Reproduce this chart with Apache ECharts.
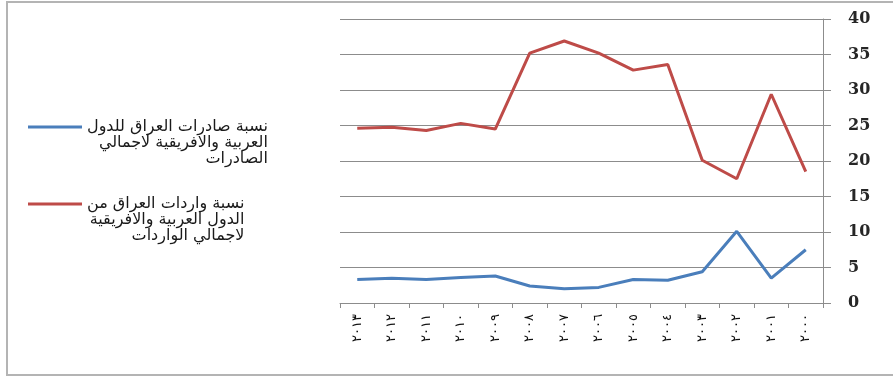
<!DOCTYPE html>
<html>
<head>
<meta charset="utf-8">
<script src="https://cdn.jsdelivr.net/npm/echarts@6/dist/echarts.min.js"></script>
<style>
  html, body { margin: 0; padding: 0; background: #fff; }
  #frame { position: absolute; left: 6px; top: 1px; width: 893px; height: 371px; border-left: 2px solid #b4b4b4; border-top: 2px solid #b4b4b4; border-bottom: 2px solid #b4b4b4; }
  #chart { position: absolute; left: 0; top: 0; width: 893px; height: 376px; }
</style>
</head>
<body>
<div id="frame"></div>
<div id="chart"></div>
<script>
// Years, newest first (the axis reads right-to-left)
const years = ['٢٠١٣', '٢٠١٢', '٢٠١١', '٢٠١٠', '٢٠٠٩', '٢٠٠٨', '٢٠٠٧', '٢٠٠٦', '٢٠٠٥', '٢٠٠٤', '٢٠٠٣', '٢٠٠٢', '٢٠٠١', '٢٠٠٠'];

// Share of Iraqi exports to Arab and African countries (% of total exports)
const exportsShare = [3.3, 3.5, 3.3, 3.6, 3.8, 2.4, 2.0, 2.2, 3.3, 3.2, 4.4, 10.1, 3.5, 7.5];

// Share of Iraqi imports from Arab and African countries (% of total imports)
const importsShare = [24.6, 24.75, 24.3, 25.3, 24.5, 35.2, 36.9, 35.2, 32.8, 33.6, 20.1, 17.5, 29.4, 18.5];

// Series names, as wrapped in the legend
const exportsName = ['نسبة صادرات العراق للدول', 'العربية والافريقية لاجمالي', 'الصادرات'];
const importsName = ['نسبة واردات العراق من', 'الدول العربية والافريقية', 'لاجمالي الواردات'];

const yTicks = { min: 0, max: 40, interval: 5 };

const chart = echarts.init(document.getElementById('chart'), null, { renderer: 'canvas' });

const legendFont = {
  fontFamily: 'DejaVu Sans, sans-serif',
  fontSize: 16,
  color: '#1a1a1a'
};

function legendFor(nameLines, iconY) {
  // Icon sits level with the first text line: pad the text block above
  const lineH = 16;
  const blockH = nameLines.length * lineH;
  const pad = blockH - lineH;
  return {
    orient: 'vertical',
    left: 28,
    top: iconY - 6,
    padding: 0,
    icon: 'rect',
    itemWidth: 54,
    itemHeight: 3,
    itemGap: 0,
    data: [nameLines.join(' ')],
    selectedMode: false,
    formatter: function () {
      return nameLines.map(function (l) { return '{r|' + l + '}'; }).join('\n');
    },
    textStyle: Object.assign({}, legendFont, {
      padding: [pad, 0, 0, 0],
      rich: {
        r: Object.assign({}, legendFont, { align: 'right', lineHeight: lineH })
      }
    })
  };
}

chart.setOption({
  animation: false,
  backgroundColor: 'transparent',
  grid: { left: 340, right: 70, top: 19, bottom: 73 },
  legend: [
    legendFor(exportsName, 125),
    legendFor(importsName, 202)
  ],
  xAxis: {
    type: 'category',
    data: years,
    boundaryGap: true,
    axisLine: { show: true, lineStyle: { color: '#8c8c8c', width: 1 } },
    axisTick: { show: true, length: 5, alignWithLabel: false, lineStyle: { color: '#8c8c8c' } },
    axisLabel: {
      rotate: 90,
      margin: 11,
      interval: 0,
      fontFamily: 'DejaVu Sans, sans-serif',
      fontSize: 13,
      color: '#111'
    },
    splitLine: { show: false }
  },
  yAxis: {
    type: 'value',
    position: 'right',
    min: yTicks.min,
    max: yTicks.max,
    interval: yTicks.interval,
    axisLine: { show: true, lineStyle: { color: '#8c8c8c', width: 1 } },
    axisTick: { show: true, inside: false, length: 8, lineStyle: { color: '#8c8c8c' } },
    axisLabel: {
      margin: 25,
      fontFamily: 'DejaVu Serif, Liberation Serif, serif',
      fontWeight: 'bold',
      fontSize: 16,
      color: '#262626'
    },
    splitLine: { show: true, lineStyle: { color: '#8c8c8c', width: 1 } }
  },
  series: [
    {
      name: exportsName.join(' '),
      type: 'line',
      data: exportsShare,
      symbol: 'none',
      lineStyle: { color: '#4a7ebb', width: 3 },
      itemStyle: { color: '#4a7ebb' }
    },
    {
      name: importsName.join(' '),
      type: 'line',
      data: importsShare,
      symbol: 'none',
      lineStyle: { color: '#be4b48', width: 3 },
      itemStyle: { color: '#be4b48' }
    }
  ]
});
</script>
</body>
</html>
